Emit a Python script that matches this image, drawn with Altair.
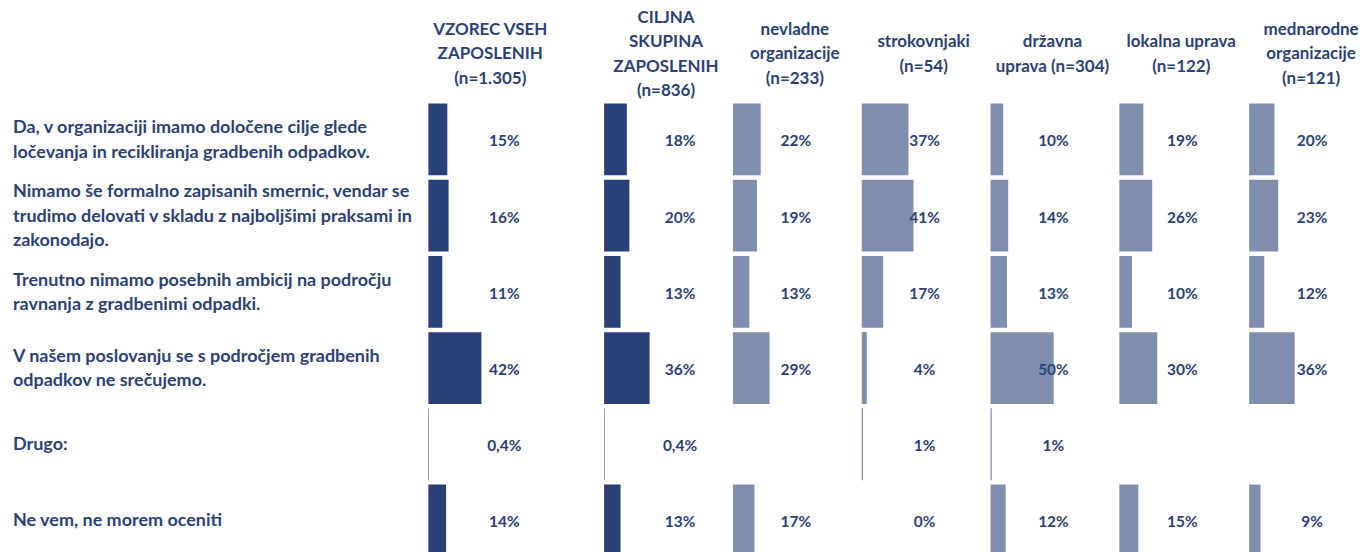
import altair as alt
import pandas as pd

# ---- data ----
row_ids = ["r1", "r2", "r3", "r4", "r5", "r6"]
row_labels = [
    "Da, v organizaciji imamo določene cilje glede\nločevanja in recikliranja gradbenih odpadkov.",
    "Nimamo še formalno zapisanih smernic, vendar se\ntrudimo delovati v skladu z najboljšimi praksami in\nzakonodajo.",
    "Trenutno nimamo posebnih ambicij na področju\nravnanja z gradbenimi odpadki.",
    "V našem poslovanju se s področjem gradbenih\nodpadkov ne srečujemo.",
    "Drugo:",
    "Ne vem, ne morem oceniti",
]
col_headers = [
    "VZOREC VSEH\nZAPOSLENIH\n(n=1.305)",
    "CILJNA\nSKUPINA\nZAPOSLENIH\n(n=836)",
    "nevladne\norganizacije\n(n=233)",
    "strokovnjaki\n(n=54)",
    "državna\nuprava (n=304)",
    "lokalna uprava\n(n=122)",
    "mednarodne\norganizacije\n(n=121)",
]
vzorec = [15, 16, 11, 42, 0.4, 14]
ciljna = [18, 20, 13, 36, 0.4, 13]
nevladne = [22, 19, 13, 29, None, 17]
strokovnjaki = [37, 41, 17, 4, 1, 0]
drzavna = [10, 14, 13, 50, 1, 12]
lokalna = [19, 26, 10, 30, None, 15]
mednarodne = [20, 23, 12, 36, None, 9]
series = [vzorec, ciljna, nevladne, strokovnjaki, drzavna, lokalna, mednarodne]

# ---- style ----
DARK = "#2A4177"
LIGHT = "#7F8DAF"
TEXT = "#2C4275"
FONT = "Lato"
FS_ROW = 18
FS_HEAD = 17
FS_PCT = 15.5
LH = 24.5
PX_PER_PCT = 1.265
col_widths = [176, 129, 129, 129, 129, 130, 108]
col_colors = [DARK, DARK, LIGHT, LIGHT, LIGHT, LIGHT, LIGHT]
label_offsets = [76, 76, 63, 63, 63, 63, 63]
label_panel_w = 421
header_h = 91
body_h = 458
header_center = 44


def fmt(v):
    if v is None:
        return None
    if 0 < v < 1:
        return (f"{v:.1f}%").replace(".", ",")
    return f"{v:g}%"


yscale = alt.Scale(domain=row_ids, paddingInner=0.058, paddingOuter=0.029)

# header row
cells = [
    alt.Chart(pd.DataFrame({"t": [""]})).mark_text(opacity=0, baseline="top", fontSize=1).encode(
        x=alt.value(0), y=alt.value(0), text="t:N"
    ).properties(width=label_panel_w, height=header_h)
]
for i, h in enumerate(col_headers):
    n = h.count("\n") + 1
    cells.append(
        alt.Chart(pd.DataFrame({"t": [h]}))
        .mark_text(font=FONT, fontSize=FS_HEAD, fontWeight="bold", color=TEXT,
                   align="center", baseline="middle", lineBreak="\n", lineHeight=LH)
        .encode(x=alt.value(62), y=alt.value(header_center - (n - 1) * LH / 2), text="t:N")
        .properties(width=col_widths[i], height=header_h)
    )

# body row: row labels, grouped by number of lines so that each block is centred
lab_df = pd.DataFrame({
    "row": row_ids,
    "label": row_labels,
    "n": [s.count("\n") + 1 for s in row_labels],
})
label_layers = []
for n in sorted(lab_df["n"].unique()):
    label_layers.append(
        alt.Chart(lab_df[lab_df["n"] == n])
        .mark_text(font=FONT, fontSize=FS_ROW, fontWeight="bold", color=TEXT,
                   align="left", baseline="middle", lineBreak="\n", lineHeight=LH,
                   dy=1 - (int(n) - 1) * LH / 2)
        .encode(x=alt.value(5), y=alt.Y("row:N", scale=yscale, axis=None), text="label:N")
    )
cells.append(alt.layer(*label_layers).properties(width=label_panel_w, height=body_h))

for i, vals in enumerate(series):
    recs = [
        {"row": r, "value": v, "label": fmt(v)}
        for r, v in zip(row_ids, vals) if v is not None
    ]
    df = pd.DataFrame(recs)
    base = alt.Chart(df).encode(y=alt.Y("row:N", scale=yscale, axis=None))
    bars = base.mark_bar(color=col_colors[i]).encode(
        x=alt.X("value:Q", scale=alt.Scale(domain=[0, col_widths[i] / PX_PER_PCT]), axis=None)
    )
    text = base.mark_text(font=FONT, fontSize=FS_PCT, fontWeight="bold", color=TEXT,
                          align="center", baseline="middle", dy=2).encode(
        x=alt.value(label_offsets[i]), text="label:N"
    )
    cells.append(alt.layer(bars, text).properties(width=col_widths[i], height=body_h))

chart = (
    alt.concat(*cells, columns=8, spacing=0, bounds="flush", align="each")
    .properties(padding=0)
    .configure_view(stroke=None)
)

chart.save("out.html", embed_options={"renderer": "svg", "actions": False})
